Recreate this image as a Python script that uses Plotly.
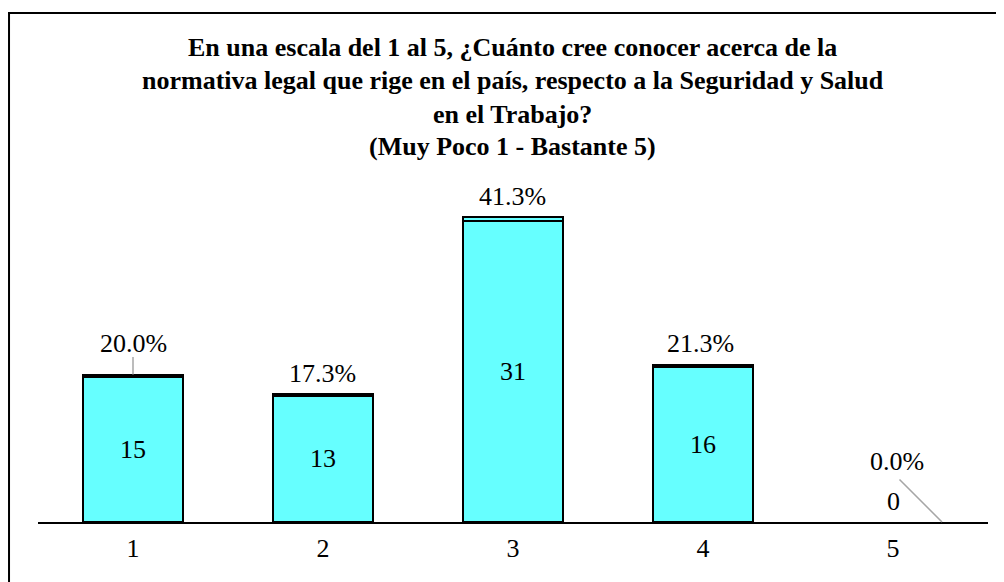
import plotly.graph_objects as go

categories = ["1", "2", "3", "4", "5"]
counts = [15, 13, 31, 16, 0]
percents = [20.0, 17.3, 41.3, 21.3, 0.0]
title_lines = [
    "En una escala del 1 al 5, ¿Cuánto cree conocer acerca de la",
    "normativa legal que rige en el país, respecto a la Seguridad y Salud",
    "en el Trabajo?",
    "(Muy Poco 1 - Bastante 5)",
]

FONT = "'Liberation Serif', Tinos, 'Times New Roman', Times, 'Nimbus Roman', 'DejaVu Serif', serif"
FILL = "#66FFFF"
pct_frac = [p / 100 for p in percents]
totals = [c + f for c, f in zip(counts, pct_frac)]
# no outline on zero-height bars (they would otherwise thicken the axis line)
outline_w = [2 if c > 0 else 0 for c in counts]

# page body margin of 8px is accounted for in the margins below
W, H = 996, 574
ML, MR, MT, MB = 30, 16, 162, 60
PH = H - MT - MB


def py(page_y):
    """page pixel y -> paper coordinate"""
    return (H - MB + 8 - page_y) / PH


fig = go.Figure()
fig.add_trace(go.Bar(x=categories, y=counts,
                     marker=dict(color=FILL, line=dict(color="black", width=outline_w)),
                     hoverinfo="skip"))
fig.add_trace(go.Bar(x=categories, y=pct_frac,
                     marker=dict(color=FILL, line=dict(color="black", width=outline_w)),
                     hoverinfo="skip"))

annotations = []
# count labels (x given as category index)
for i, c in enumerate(counts):
    annotations.append(dict(x=i, y=c / 2, text=str(c), showarrow=False,
                            yshift=21 if c == 0 else 0,
                            font=dict(family=FONT, size=26, color="black")))
# percent labels
pct_shift = [(0, 31), (-1, 21), (-1, 21), (-3, 21), (4, 61)]
for i, (t, p) in enumerate(zip(totals, percents)):
    xs, ys = pct_shift[i]
    annotations.append(dict(x=i, y=t, text=f"{p:.1f}%", showarrow=False,
                            xshift=xs, yshift=ys,
                            font=dict(family=FONT, size=26, color="black")))
# leader lines
annotations.append(dict(x=0, y=totals[0], text="", showarrow=True, arrowhead=0,
                        arrowwidth=1.5, arrowcolor="#A6A6A6", ax=0, ay=-19,
                        font=dict(size=1)))
annotations.append(dict(x=4, y=totals[4], text="", showarrow=True, arrowhead=0,
                        arrowwidth=1.5, arrowcolor="#A6A6A6", ax=-44, ay=-44, xshift=49,
                        font=dict(size=1)))
# title lines
for line, ypix in zip(title_lines, [47, 81, 114.5, 147]):
    annotations.append(dict(xref="paper", yref="paper", x=0.4995, y=py(ypix),
                            xanchor="center", yanchor="middle", showarrow=False,
                            text=f"<b>{line}</b>",
                            font=dict(family=FONT, size=26, color="black")))

fig.update_layout(
    width=W, height=H,
    margin=dict(l=ML, r=MR, t=MT, b=MB),
    barmode="stack", bargap=0.474,
    showlegend=False,
    plot_bgcolor="white", paper_bgcolor="white",
    font=dict(family=FONT),
    annotations=annotations,
    shapes=[dict(type="rect", xref="paper", yref="paper",
                 x0=-0.0305, x1=1.05, y0=-0.3, y1=py(13),
                 line=dict(color="black", width=2), fillcolor="rgba(0,0,0,0)", layer="below")],
    xaxis=dict(type="category", showline=True, linecolor="black", linewidth=1.5, ticks="",
               showgrid=False, zeroline=False,
               tickfont=dict(family=FONT, size=26, color="black"),
               ticklabelstandoff=2),
    yaxis=dict(visible=False, range=[0, 36.29], showgrid=False, zeroline=False),
)

fig.write_html("out.html")
